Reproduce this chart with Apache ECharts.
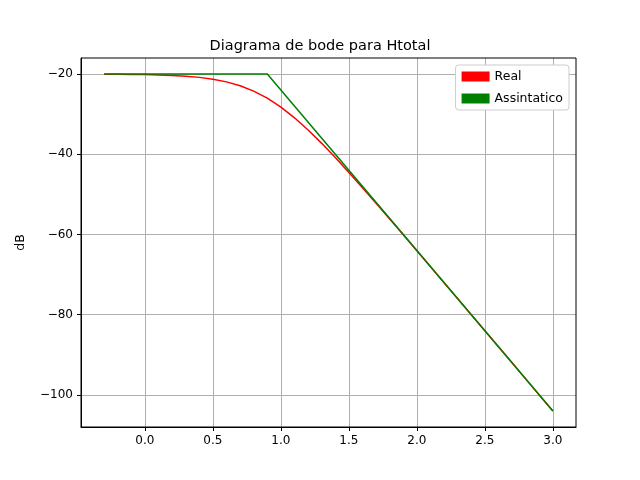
<!DOCTYPE html>
<html><head><meta charset="utf-8">
<script src="https://cdn.jsdelivr.net/npm/echarts@6/dist/echarts.min.js"></script>
<style>body{margin:0}#c{width:640px;height:480px}</style></head>
<body><div id="c"></div>
<script>
// log10(w) values and magnitudes (dB)
var xReal = [-0.3,-0.2,-0.1,0.0,0.1,0.2,0.3,0.4,0.5,0.6,0.7,0.8,0.9,1.0,1.1,1.2,1.3,1.4,1.5,1.6,1.7,1.8,1.9,2.0,2.1,2.2,2.3,2.4,2.5,2.6,2.7,2.8,2.9,3.0];
var yReal = [-20.03,-20.05,-20.09,-20.14,-20.22,-20.34,-20.53,-20.83,-21.28,-21.95,-22.91,-24.25,-26.02,-28.25,-30.91,-33.95,-37.28,-40.83,-44.53,-48.34,-52.21,-56.14,-60.09,-64.05,-68.03,-72.02,-76.01,-80.01,-84.01,-88,-92,-96,-100,-104];
var xAsym = [-0.3,0.9,3.0];
var yAsym = [-20,-20,-104];
var xTicks = [0.0,0.5,1.0,1.5,2.0,2.5,3.0];
var yTicks = [-100,-80,-60,-40,-20];

function pairs(xs, ys){ return xs.map(function(x,i){ return [x, ys[i]]; }); }

var chart = echarts.init(document.getElementById('c'));
var font = 'DejaVu Sans';
chart.setOption({
  animation:false,
  textStyle:{fontFamily:font},
  title:{text:'Diagrama de bode para Htotal',left:'center',top:34,
    textStyle:{fontFamily:font,fontSize:14.5,fontWeight:'normal',color:'#000'}},
  legend:{orient:'vertical',right:71,top:65,icon:'rect',itemWidth:28,itemHeight:10,
    backgroundColor:'#fff',borderColor:'#ccc',borderWidth:1,borderRadius:3,padding:[5,6],itemGap:9,
    textStyle:{fontFamily:font,fontSize:12.5,color:'#000'},
    data:[{name:'Real',itemStyle:{color:'red'}},{name:'Assintatico',itemStyle:{color:'green'}}]},
  grid:{left:81,right:64,top:58,bottom:53},
  xAxis:{type:'value',min:-0.47,max:3.17,
    axisLine:{onZero:false,lineStyle:{color:'#000'}},
    axisTick:{customValues:xTicks,length:4,lineStyle:{color:'#000'}},
    axisLabel:{customValues:xTicks,color:'#000',fontSize:12,fontFamily:font,
      formatter:function(v){return v.toFixed(1);}},
    splitLine:{show:true,lineStyle:{color:'#b0b0b0'}}},
  yAxis:{type:'value',min:-108,max:-16,name:'dB',nameLocation:'middle',nameGap:54,
    nameTextStyle:{color:'#000',fontSize:12.5,fontFamily:font},
    axisLine:{show:true,onZero:false,lineStyle:{color:'#000'}},
    axisTick:{show:true,customValues:yTicks,length:4,lineStyle:{color:'#000'}},
    axisLabel:{customValues:yTicks,color:'#000',fontSize:12,fontFamily:font,
      formatter:function(v){return String(v).replace('-','\u2212');}},
    splitLine:{show:true,lineStyle:{color:'#b0b0b0'}}},
  series:[
    {name:'Real',type:'line',data:pairs(xReal,yReal),showSymbol:false,
      lineStyle:{color:'red',width:1.5},itemStyle:{color:'red'}},
    {name:'Assintatico',type:'line',data:pairs(xAsym,yAsym),showSymbol:false,
      lineStyle:{color:'green',width:1.5},itemStyle:{color:'green'}}
  ]
});
// outer frame on top and right like matplotlib
chart.setOption({graphic:[{type:'rect',shape:{x:81,y:58,width:495,height:369},
  style:{fill:null,stroke:'#000',lineWidth:1},silent:true}]});
</script></body></html>
